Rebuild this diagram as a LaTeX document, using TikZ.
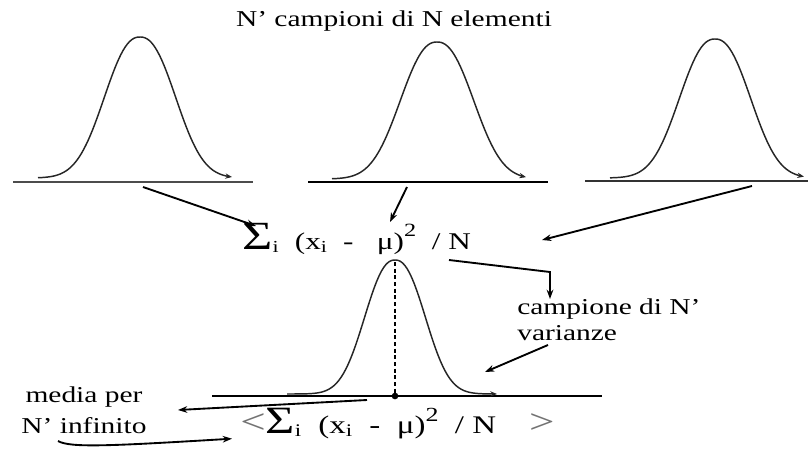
\documentclass[tikz,border=0pt]{standalone}
\usepackage{fontspec}
\setmainfont{Liberation Serif}[FakeStretch=1.3]
\usepackage{tikz}
\usetikzlibrary{arrows.meta, positioning, calc}

\begin{document}
\begin{tikzpicture}[
    x=0.75pt, y=-0.75pt,
    txt/.style={inner sep=0pt, font=\fontsize{17}{19}\selectfont},
    bell/.style={line width=1.1pt, black!85, -{Stealth[length=5pt, width=4pt]}},
    arr/.style={-{Stealth[length=7pt, width=5pt]}, line width=1.4pt},
]
    \useasboundingbox (0,0) rectangle (811,450);

    % ── Title ──
    \node[txt] (title) at (394,21) {N’ campioni di N elementi};

    % ── Three samples ──
    \draw[line width=1.1pt, black!70] (13,182) -- (253,182);
    \draw[bell] plot[domain=38:232, samples=90] (\x, {178-141*exp(0-min(abs((\x-140)/34),3.5)^2.3/2)});
    \coordinate (s1) at (143,187);

    \draw[line width=2.2pt] (308,182) -- (548,182);
    \draw[bell] plot[domain=332:526, samples=90] (\x, {179-137*exp(0-min(abs((\x-437)/35),3.5)^2.3/2)});
    \coordinate (s2) at (407,187);

    \draw[line width=1.5pt, black!80] (585,181) -- (808,181);
    \draw[bell] plot[domain=610:804, samples=90] (\x, {178-139*exp(0-min(abs((\x-715)/34),3.5)^2.3/2)});
    \coordinate (s3) at (752,186);

    % ── Variance of one sample ──
    \node[inner sep=0pt, anchor=base west, font=\fontsize{18}{18}\selectfont] (sum) at (242,249)
        {{\fontsize{30}{30}\selectfont Σ}\textsubscript{i}\ \ (x\textsubscript{i}\ \ -\ \ \ μ)\raisebox{1.1ex}{\fontsize{14}{14}\selectfont 2}\ \ / N};
    \coordinate (sig) at (256,226);
    \coordinate (mu) at (390,222);
    \coordinate (sumR) at (542,240);

    \draw[arr] (s1) -- (sig);
    \draw[arr] (s2) -- (mu);
    \draw[arr] (s3) -- (sumR);

    % ── Sample of N' variances ──
    \node[txt, anchor=north west, align=left] (camp) at (517,299) {campione di N’\\varianze};
    \coordinate (sumfoot) at (449,260);
    \coordinate (bend) at (550,272);
    \draw[arr] (sumfoot) -- (bend) -- (bend |- camp.north);

    \draw[line width=2.2pt] (212,396) -- (602,396);
    \draw[bell] plot[domain=287:497, samples=90] (\x, {394-134*exp(0-min(abs((\x-395)/29),3.5)^2.3/2)});
    \draw[densely dashed, line width=0.8pt] (395,262) -- (395,396);
    \fill (395,396) circle (2.5pt);

    \coordinate (vtail) at (548,345);
    \coordinate (vtip) at (485,372);
    \draw[arr] (vtail) -- (vtip);

    % ── Mean for N' infinite ──
    \node[txt, align=center, font=\fontsize{17}{23}\selectfont] (media) at (84,410) {media per\\N’ infinito};
    \node[inner sep=0pt, anchor=base west, font=\fontsize{19}{19}\selectfont] (avg) at (240,433)
        {{\fontsize{26}{26}\selectfont\color{black!55}<}{\fontsize{29}{29}\selectfont Σ}\textsubscript{i}\ \ (x\textsubscript{i}\ \ -\ \ μ)\raisebox{1ex}{\fontsize{15}{15}\selectfont 2}\ \ /\ N\ \ \ \ {\fontsize{26}{26}\selectfont\color{black!55}>}};

    \coordinate (axfoot) at (367,400);
    \coordinate (mtip) at (178,410);
    \draw[arr] (axfoot) -- (mtip);

    \coordinate (mfoot) at (58,441);
    \draw[arr] (mfoot) .. controls (70,448) and (110,446) .. ([xshift=-6pt]avg.south west);

\end{tikzpicture}
\end{document}
